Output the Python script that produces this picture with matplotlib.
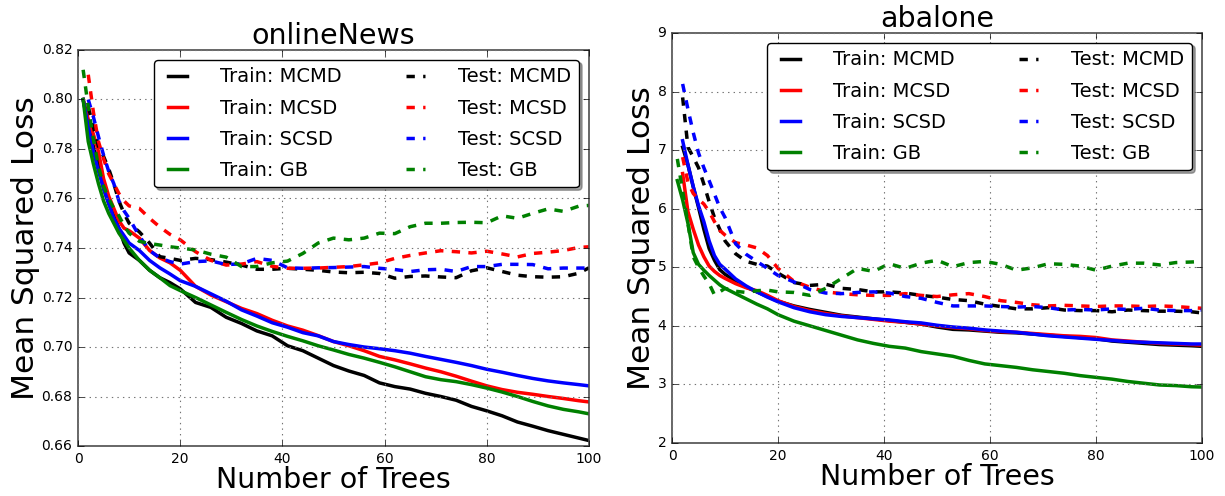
import numpy as np
import matplotlib
matplotlib.use('Agg')
import matplotlib.pyplot as plt

plt.style.use('classic')

# number of trees where the losses were read
trees = [1, 2, 3, 4, 5, 6, 7, 8, 9, 10, 12, 14, 16, 18, 20, 23, 26, 29, 32, 35, 38,
         41, 44, 47, 50, 53, 56, 59, 62, 65, 68, 71, 74, 77, 80, 83, 86, 89, 92, 95, 98, 100]
nan = np.nan

# -- onlineNews
news_train_mcmd = [0.800, 0.790, 0.781, 0.774, 0.764, 0.758, 0.753, 0.748, 0.742, 0.738, 0.735, 0.731,
                   0.728, 0.726, 0.7235, 0.7180, 0.7160, 0.7120, 0.7095, 0.7065, 0.7045, 0.7005, 0.6985,
                   0.6955, 0.6925, 0.6903, 0.6885, 0.6855, 0.6840, 0.6830, 0.6813, 0.6800, 0.6785, 0.6760,
                   0.6742, 0.6722, 0.6697, 0.6680, 0.6662, 0.6647, 0.6632, 0.6622]
news_train_mcsd = [0.800, 0.792, 0.786, 0.779, 0.768, 0.761, 0.756, 0.751, 0.748, 0.747, 0.744, 0.739,
                   0.736, 0.734, 0.731, 0.7245, 0.7210, 0.7183, 0.7156, 0.7135, 0.7108, 0.7085, 0.7068,
                   0.7046, 0.7022, 0.7005, 0.6985, 0.6962, 0.6948, 0.6932, 0.6915, 0.6900, 0.6882, 0.6862,
                   0.6843, 0.6828, 0.6817, 0.6809, 0.6800, 0.6792, 0.6783, 0.6778]
news_train_scsd = [0.800, 0.789, 0.779, 0.771, 0.764, 0.758, 0.752, 0.748, 0.745, 0.742, 0.739, 0.735,
                   0.732, 0.7295, 0.7268, 0.7245, 0.7215, 0.7185, 0.7150, 0.7125, 0.7098, 0.7080, 0.7058,
                   0.7045, 0.7022, 0.7010, 0.7000, 0.6993, 0.6985, 0.6975, 0.6962, 0.6950, 0.6938, 0.6925,
                   0.6910, 0.6898, 0.6885, 0.6873, 0.6863, 0.6855, 0.6848, 0.6843]
news_train_gb = [0.800, 0.783, 0.774, 0.766, 0.759, 0.754, 0.750, 0.746, 0.743, 0.740, 0.735, 0.731,
                 0.728, 0.7248, 0.7228, 0.7200, 0.7170, 0.7140, 0.7111, 0.7085, 0.7063, 0.7043, 0.7025,
                 0.7005, 0.6988, 0.6970, 0.6955, 0.6938, 0.6920, 0.6900, 0.6880, 0.6868, 0.6860, 0.6848,
                 0.6834, 0.6818, 0.6800, 0.6780, 0.6762, 0.6748, 0.6738, 0.6730]
news_test_mcmd = [nan, 0.797, 0.789, 0.781, 0.777, 0.772, 0.766, 0.759, 0.754, 0.750, 0.7465, 0.742,
                  0.7365, 0.7358, 0.7350, 0.7358, 0.7353, 0.7343, 0.7331, 0.7314, 0.7314, 0.7318, 0.7314,
                  0.7310, 0.7303, 0.7300, 0.7302, 0.7297, 0.7278, 0.7285, 0.7287, 0.7283, 0.7280, 0.7308,
                  0.7320, 0.7305, 0.7290, 0.7284, 0.7282, 0.7284, 0.7298, 0.7320]
news_test_mcsd = [nan, 0.810, 0.795, 0.783, 0.776, 0.770, 0.766, 0.762, 0.759, 0.757, 0.756, 0.752,
                  0.7485, 0.7455, 0.7433, 0.7385, 0.7350, 0.7331, 0.7335, 0.7345, 0.7326, 0.7318, 0.7318,
                  0.7319, 0.7322, 0.7325, 0.7332, 0.7340, 0.7358, 0.7370, 0.7380, 0.7389, 0.7385, 0.7380,
                  0.7387, 0.7376, 0.7364, 0.7378, 0.7383, 0.7390, 0.7402, 0.7405]
news_test_scsd = [nan, 0.800, 0.793, 0.785, 0.7775, 0.771, 0.766, 0.759, 0.755, 0.752, 0.7448, 0.739,
                  0.736, 0.7345, 0.7335, 0.7345, 0.7348, 0.7333, 0.7336, 0.7358, 0.7350, 0.7320, 0.7318,
                  0.7320, 0.7321, 0.7323, 0.7325, 0.7318, 0.7313, 0.7305, 0.7312, 0.7314, 0.7305, 0.7325,
                  0.7325, 0.7334, 0.7334, 0.7333, 0.7316, 0.7319, 0.7319, 0.7319]
news_test_gb = [0.812, 0.797, 0.784, 0.773, 0.765, 0.760, 0.756, 0.753, 0.749, 0.746, 0.7427, 0.7418,
                0.7412, 0.7405, 0.7400, 0.7392, 0.7375, 0.7363, 0.7325, 0.7325, 0.7340, 0.7347, 0.7378,
                0.7420, 0.7440, 0.7433, 0.7440, 0.7460, 0.7458, 0.7486, 0.7500, 0.7500, 0.7503, 0.7504,
                0.7502, 0.7530, 0.7520, 0.7540, 0.7558, 0.7548, 0.7569, 0.7572]

# -- abalone
abal_train_mcmd = [nan, 7.05, 6.75, 6.37, 6.02, 5.65, 5.32, 5.12, 4.96, 4.88, 4.76, 4.66, 4.58, 4.50,
                   4.42, 4.34, 4.28, 4.23, 4.18, 4.15, 4.12, 4.09, 4.06, 4.03, 3.98, 3.94, 3.93, 3.91,
                   3.89, 3.88, 3.86, 3.84, 3.82, 3.80, 3.78, 3.74, 3.72, 3.70, 3.68, 3.67, 3.66, 3.65]
abal_train_mcsd = [nan, 6.60, 5.95, 5.65, 5.38, 5.18, 5.02, 4.93, 4.86, 4.81, 4.72, 4.65, 4.60, 4.52,
                   4.43, 4.33, 4.26, 4.21, 4.17, 4.14, 4.11, 4.08, 4.06, 4.03, 4.00, 3.97, 3.95, 3.92,
                   3.90, 3.89, 3.87, 3.85, 3.83, 3.82, 3.80, 3.76, 3.74, 3.72, 3.70, 3.69, 3.68, 3.67]
abal_train_scsd = [nan, 7.16, 6.75, 6.38, 6.05, 5.78, 5.45, 5.20, 5.05, 4.97, 4.80, 4.68, 4.58, 4.49,
                   4.41, 4.31, 4.24, 4.19, 4.16, 4.14, 4.12, 4.10, 4.07, 4.05, 4.01, 3.98, 3.96, 3.93,
                   3.91, 3.89, 3.86, 3.83, 3.81, 3.79, 3.77, 3.75, 3.73, 3.72, 3.71, 3.70, 3.69, 3.69]
abal_train_gb = [6.48, 6.15, 5.75, 5.25, 5.05, 4.95, 4.86, 4.78, 4.70, 4.64, 4.55, 4.46, 4.37, 4.29,
                 4.19, 4.08, 4.00, 3.92, 3.84, 3.76, 3.70, 3.65, 3.62, 3.56, 3.52, 3.48, 3.41, 3.35,
                 3.32, 3.29, 3.25, 3.22, 3.19, 3.15, 3.12, 3.09, 3.05, 3.02, 2.99, 2.98, 2.96, 2.955]
abal_test_mcmd = [nan, 7.90, 7.05, 6.88, 6.70, 6.42, 6.12, 5.85, 5.65, 5.45, 5.23, 5.10, 5.05, 5.02,
                  4.90, 4.74, 4.69, 4.71, 4.64, 4.62, 4.58, 4.58, 4.56, 4.52, 4.49, 4.45, 4.43, 4.37,
                  4.33, 4.29, 4.29, 4.31, 4.27, 4.26, 4.26, 4.24, 4.27, 4.26, 4.25, 4.25, 4.24, 4.22]
abal_test_mcsd = [nan, 6.88, 6.45, 6.26, 6.16, 6.08, 5.95, 5.78, 5.63, 5.55, 5.42, 5.38, 5.33, 5.20,
                  4.98, 4.76, 4.66, 4.58, 4.55, 4.53, 4.52, 4.52, 4.55, 4.52, 4.50, 4.53, 4.55, 4.50,
                  4.43, 4.40, 4.36, 4.34, 4.35, 4.34, 4.33, 4.34, 4.34, 4.33, 4.34, 4.33, 4.31, 4.30]
abal_test_scsd = [nan, 8.13, 7.70, 7.30, 6.95, 6.70, 6.48, 6.25, 6.02, 5.85, 5.40, 5.22, 5.10, 4.98,
                  4.86, 4.75, 4.62, 4.56, 4.55, 4.57, 4.58, 4.56, 4.50, 4.47, 4.40, 4.34, 4.34, 4.34,
                  4.33, 4.32, 4.33, 4.31, 4.27, 4.28, 4.27, 4.29, 4.28, 4.30, 4.27, 4.26, 4.26, 4.27]
abal_test_gb = [6.85, 6.30, 5.75, 5.18, 5.00, 4.85, 4.72, 4.53, 4.58, 4.64, 4.59, 4.57, 4.60, 4.61,
                4.58, 4.57, 4.52, 4.64, 4.81, 4.98, 4.93, 5.06, 4.98, 5.07, 5.12, 5.01, 5.08, 5.10,
                5.05, 4.95, 4.99, 5.06, 5.05, 5.02, 4.95, 5.02, 5.07, 5.07, 5.04, 5.08, 5.09, 5.10]

methods = ['MCMD', 'MCSD', 'SCSD', 'GB']
colors = ['k', 'r', 'b', 'g']

panels = [
    ('onlineNews', [news_train_mcmd, news_train_mcsd, news_train_scsd, news_train_gb],
     [news_test_mcmd, news_test_mcsd, news_test_scsd, news_test_gb],
     (0.66, 0.82), np.arange(0.66, 0.821, 0.02), '%.2f'),
    ('abalone', [abal_train_mcmd, abal_train_mcsd, abal_train_scsd, abal_train_gb],
     [abal_test_mcmd, abal_test_mcsd, abal_test_scsd, abal_test_gb],
     (2, 9), np.arange(2, 10, 1), '%d'),
]

fig = plt.figure(figsize=(12.25, 4.96), dpi=100, facecolor='white')
rects = [[0.0637, 0.1008, 0.4171, 0.7984], [0.5486, 0.1069, 0.4327, 0.8266]]

for rect, (title, train, test, ylim, yticks, fmt) in zip(rects, panels):
    ax = fig.add_axes(rect)
    ax.set_facecolor('white')
    for n in range(4):
        ax.plot(trees, train[n], '-', color=colors[n], lw=2.5, label='Train: ' + methods[n])
    for n in range(4):
        ax.plot(trees, test[n], '--', color=colors[n], lw=2.5, label='Test: ' + methods[n])
    ax.set_xlim(0, 100)
    ax.set_ylim(*ylim)
    ax.set_yticks(yticks)
    ax.set_yticklabels([fmt % v for v in yticks])
    ax.set_xticks(np.arange(0, 101, 20))
    ax.tick_params(labelsize=10, pad=4)
    ax.grid(True, color='0.45', linestyle=':', linewidth=0.8)
    for sp in ax.spines.values():
        sp.set_color('0.3')
        sp.set_linewidth(1.2)
    ax.set_title(title, fontsize=20.5, pad=4)
    ax.set_xlabel('Number of Trees', fontsize=20.5, labelpad=0)
    ax.set_ylabel('Mean Squared Loss', fontsize=22.5, labelpad=1)
    ax.legend(loc='upper right', ncol=2, fontsize=14, fancybox=True, shadow=True,
              handlelength=1.6, handletextpad=1.4, columnspacing=3.0, labelspacing=0.62)

fig.savefig('out.png', dpi=100, facecolor='white')
